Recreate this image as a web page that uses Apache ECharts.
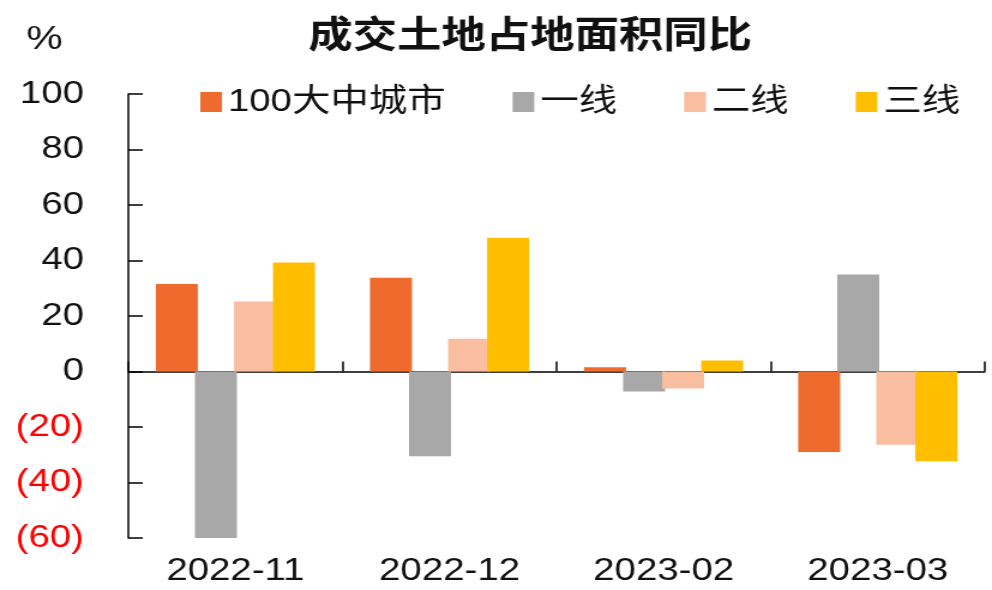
<!DOCTYPE html>
<html>
<head>
<meta charset="utf-8">
<script src="https://cdn.jsdelivr.net/npm/echarts@6/dist/echarts.min.js"></script>
<style>
html,body{margin:0;padding:0;background:#fff;overflow:hidden;}
#wrap{width:992px;height:590px;overflow:hidden;}
#c{width:827px;height:590px;transform:scaleX(1.1995);transform-origin:0 0;}
</style>
</head>
<body>
<div id="wrap"><div id="c"></div></div>
<script>
const categories = ['2022-11', '2022-12', '2023-02', '2023-03'];
const seriesNames = ['100大中城市', '一线', '二线', '三线'];
const city100 = [31.5, 33.8, 1.5, -29];
const tier1 = [-60, -30.5, -7.2, 35];
const tier2 = [25.2, 11.8, -6.1, -26.4];
const tier3 = [39.3, 48.2, 4.0, -32.3];
const yTicks = {min: -60, max: 100, interval: 20};
const titleText = '成交土地占地面积同比';
const unitText = '%';

const colors = ['#EE6B2D', '#A8A8A8', '#F9BEA0', '#FFBF00'];
const FONT = '"Liberation Sans", Arial, "Noto Sans CJK SC", sans-serif';
const dataSets = [city100, tier1, tier2, tier3];

const chart = echarts.init(document.getElementById('c'), null, {renderer: 'canvas'});
const option = {
  animation: false,
  backgroundColor: '#fff',
  textStyle: {fontFamily: FONT},
  color: colors,
  graphic: [
    {type: 'text', x: 442, y: 34, style: {text: titleText, font: 'bold 37px "Noto Sans CJK SC", sans-serif', fill: '#111', textAlign: 'center', textVerticalAlign: 'middle'}},
    {type: 'text', x: 37, y: 40, style: {text: unitText, font: '34px "Liberation Sans", Arial, sans-serif', fill: '#111', textAlign: 'center', textVerticalAlign: 'middle'}}
  ],
  legend: {
    data: seriesNames,
    left: 162,
    top: 81,
    itemWidth: 18,
    itemHeight: 20,
    itemGap: 56,
    icon: 'rect',
    textStyle: {fontSize: 32, color: '#111', fontFamily: FONT}
  },
  grid: {left: 107, right: 6, top: 94, bottom: 52, containLabel: false},
  xAxis: [
    {
      type: 'category',
      data: categories,
      axisLine: {onZero: true, lineStyle: {color: '#000', width: 1.5}},
      axisTick: {show: true, inside: true, length: 10, lineStyle: {color: '#000', width: 1.5}},
      axisLabel: {show: false}
    },
    {
      type: 'category',
      data: categories,
      position: 'bottom',
      axisLine: {show: false},
      axisTick: {show: false},
      axisLabel: {show: true, margin: 17, fontSize: 32, color: '#111', fontFamily: FONT}
    }
  ],
  yAxis: {
    type: 'value',
    min: yTicks.min,
    max: yTicks.max,
    interval: yTicks.interval,
    splitLine: {show: false},
    axisLine: {show: true, lineStyle: {color: '#000', width: 1.5}},
    axisTick: {show: true, inside: true, length: 12, lineStyle: {color: '#000', width: 1.5}},
    axisLabel: {
      margin: 37,
      fontSize: 32,
      fontFamily: FONT,
      formatter: function (v) {
        if (v < 0) return '{r|(' + (-v) + ')}';
        return '{k|' + v + '}';
      },
      rich: {
        r: {color: '#FF0000', fontSize: 32, fontFamily: FONT},
        k: {color: '#111', fontSize: 32, fontFamily: FONT}
      }
    }
  },
  series: seriesNames.map(function (n, i) {
    return {
      name: n,
      type: 'bar',
      xAxisIndex: 0,
      data: dataSets[i],
      barWidth: 35,
      barGap: '-7%',
      itemStyle: {color: colors[i]}
    };
  })
};
chart.setOption(option);
</script>
</body>
</html>
